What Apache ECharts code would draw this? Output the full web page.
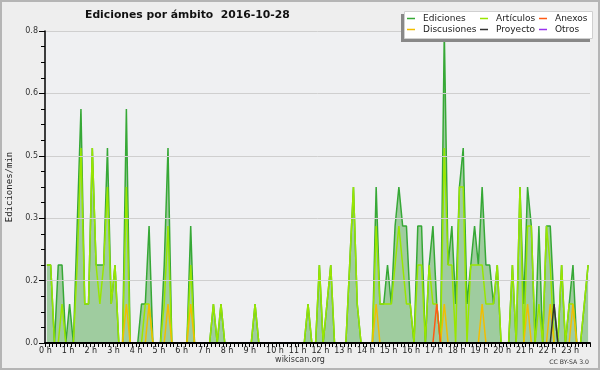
<!DOCTYPE html>
<html><head><meta charset="utf-8">
<script src="https://cdn.jsdelivr.net/npm/echarts@6/dist/echarts.min.js"></script>
<style>html,body{margin:0;padding:0;background:#eeeeee}#c{width:600px;height:370px}</style>
</head><body><div id="c"></div><script>
// 10-minute bins, 144 per day (edits per minute)
const ediciones = [
 .2,.2,0,.2,.2,0,.1,0,.3,.6,.1,.1,
 .5,.2,.2,.2,.5,.1,.2,0,0,.6,0,0,
 0,.1,.1,.3,0,0,0,.2,.5,0,0,0,
 0,0,.3,0,0,0,0,0,.1,0,.1,0,
 0,0,0,0,0,0,0,.1,0,0,0,0,
 0,0,0,0,0,0,0,0,0,.1,0,0,
 .2,0,.1,.2,0,0,0,0,.2,.4,.1,0,
 0,0,0,.4,.1,.1,.2,.1,.3,.4,.3,.3,
 .1,0,.3,.3,0,.2,.3,.1,0,.8,.2,.3,
 .1,.4,.5,.1,.2,.3,.2,.4,.2,.2,.1,.2,
 0,0,0,.2,0,.4,.1,.4,.3,0,.3,0,
 .3,.3,.1,0,.2,0,.1,.2,0,0,.1,.2
];
const articulos = [
 .2,.2,0,0,.1,0,0,0,.2,.5,.1,.1,
 .5,.2,.1,.2,.4,.1,.2,0,0,.4,0,0,
 0,0,.1,.1,0,0,0,.1,.3,0,0,0,
 0,0,.2,0,0,0,0,0,.1,0,.1,0,
 0,0,0,0,0,0,0,.1,0,0,0,0,
 0,0,0,0,0,0,0,0,0,.1,0,0,
 .2,0,.1,.2,0,0,0,0,.2,.4,.1,0,
 0,0,0,.3,.1,.1,.1,.1,.2,.3,.2,.1,
 .1,0,.2,.2,0,.2,.1,.1,0,.5,.2,.2,
 0,.4,.4,0,.2,.2,.2,.2,.1,.1,.1,.2,
 0,0,0,.2,0,.4,0,.3,.3,0,.1,0,
 .3,.2,0,0,.2,0,.1,.1,0,0,.1,.2
];
const discusiones = [
 0,0,0,0,0,0,0,0,0,0,0,0,
 0,0,0,0,0,0,0,0,0,.1,0,0,
 0,0,0,.1,0,0,0,0,.1,0,0,0,
 0,0,.1,0,0,0,0,0,0,0,0,0,
 0,0,0,0,0,0,0,0,0,0,0,0,
 0,0,0,0,0,0,0,0,0,0,0,0,
 0,0,0,0,0,0,0,0,0,0,0,0,
 0,0,0,.1,0,0,0,0,0,0,0,0,
 0,0,0,0,0,0,0,0,0,.1,0,0,
 0,0,0,0,0,0,0,.1,0,0,0,0,
 0,0,0,0,0,0,0,.1,0,0,0,0,
 0,.1,0,0,0,0,0,.1,0,0,0,0
];
const anexos = [
 0,0,0,0,0,0,0,0,0,0,0,0,
 0,0,0,0,0,0,0,0,0,0,0,0,
 0,0,0,0,0,0,0,0,0,0,0,0,
 0,0,0,0,0,0,0,0,0,0,0,0,
 0,0,0,0,0,0,0,0,0,0,0,0,
 0,0,0,0,0,0,0,0,0,0,0,0,
 0,0,0,0,0,0,0,0,0,0,0,0,
 0,0,0,0,0,0,0,0,0,0,0,0,
 0,0,0,0,0,0,0,.1,0,0,0,0,
 0,0,0,0,0,0,0,0,0,0,0,0,
 0,0,0,0,0,0,0,0,0,0,0,0,
 0,0,0,0,0,0,0,0,0,0,0,0
];
const proyecto = [
 0,0,0,0,0,0,0,0,0,0,0,0,
 0,0,0,0,0,0,0,0,0,0,0,0,
 0,0,0,0,0,0,0,0,0,0,0,0,
 0,0,0,0,0,0,0,0,0,0,0,0,
 0,0,0,0,0,0,0,0,0,0,0,0,
 0,0,0,0,0,0,0,0,0,0,0,0,
 0,0,0,0,0,0,0,0,0,0,0,0,
 0,0,0,0,0,0,0,0,0,0,0,0,
 0,0,0,0,0,0,0,0,0,0,0,0,
 0,0,0,0,0,0,0,0,0,0,0,0,
 0,0,0,0,0,0,0,0,0,0,0,0,
 0,0,.1,0,0,0,0,0,0,0,0,0
];
const otros = new Array(144).fill(0);
const seriesNames = ['Ediciones','Artículos','Anexos','Discusiones','Proyecto','Otros'];
const seriesColors = ['#36a836','#99e600','#ff5a14','#f2be00','#333333','#9933ee'];
const titleText = 'Ediciones por ámbito  2016-10-28';
const yName = 'Ediciones/min';

const binsPerHour = 6;
const pts = arr => arr.map((v,i)=>[(i+0.5)/binsPerHour, v]);
const dataByName = {
  'Ediciones': ediciones, 'Artículos': articulos, 'Anexos': anexos,
  'Discusiones': discusiones, 'Proyecto': proyecto, 'Otros': otros
};
const drawOrder = ['Ediciones','Artículos','Discusiones','Anexos','Proyecto','Otros'];

const series = drawOrder.map(name => {
  const c = seriesColors[seriesNames.indexOf(name)];
  const s = {
    name, type:'line', data: pts(dataByName[name]), symbol:'none', smooth:false,
    color: c, lineStyle:{color:c, width:1.5}, z: 2
  };
  if (name === 'Ediciones') s.areaStyle = {color:'#9fcc9f', opacity:1};
  return s;
});

const legendCommon = {
  orient:'vertical', top:13, padding:0, itemGap:0, itemWidth:8, itemHeight:1.5,
  icon:'rect', z:60, selectedMode:false,
  textStyle:{fontFamily:'DejaVu Sans', fontSize:9, color:'#222', lineHeight:11, padding:[0,0,0,3]}
};

const chart = echarts.init(document.getElementById('c'), null, {renderer:'canvas'});
chart.setOption({
  animation:false,
  backgroundColor:'#eeeeee',
  title:{text:titleText, left:80, top:5, textStyle:{fontFamily:'DejaVu Sans', fontSize:10.8, fontWeight:'bold', color:'#111'}},
  grid:{left:45, right:10, top:31, bottom:27, show:true, backgroundColor:'#eff0f2', borderWidth:0, outerBoundsMode:'none', containLabel:false},
  legend:[
    Object.assign({left:407, data:[seriesNames[0], seriesNames[3]]}, legendCommon),
    Object.assign({left:480, data:[seriesNames[1], seriesNames[4]]}, legendCommon),
    Object.assign({left:539, data:[seriesNames[2], seriesNames[5]]}, legendCommon)
  ],
  xAxis:{
    type:'value', min:0, max:24, interval:1, z:5,
    axisLine:{lineStyle:{color:'#000', width:2}},
    axisTick:{show:true, length:4, lineStyle:{color:'#000'}},
    minorTick:{show:true, splitNumber:6, length:4, lineStyle:{color:'#000'}},
    splitLine:{show:false},
    axisLabel:{formatter:v => v < 24 ? v + ' h' : '', fontFamily:'DejaVu Sans', fontSize:8, color:'#222', margin:4, align:'left', padding:[0,0,0,-6]}
  },
  yAxis:{
    type:'value', min:0, max:0.8, interval:0.16, z:5,
    name:yName, nameLocation:'middle', nameGap:31,
    nameTextStyle:{fontFamily:'DejaVu Sans Mono', fontSize:9, color:'#222'},
    axisLine:{show:true, lineStyle:{color:'#000', width:1.5}},
    axisTick:{show:true, length:6, lineStyle:{color:'#000'}},
    minorTick:{show:true, splitNumber:4, length:4, lineStyle:{color:'#000'}},
    splitLine:{show:true, lineStyle:{color:'#cfcfcf'}},
    axisLabel:{formatter:v => v.toFixed(1), fontFamily:'DejaVu Sans', fontSize:8, color:'#333', margin:7}
  },
  graphic:[
    {type:'rect', z:-1, silent:true, shape:{x:1, y:1, width:598, height:368}, style:{fill:'none', stroke:'#b5b5b5', lineWidth:2}},
    {type:'rect', z:50, silent:true, shape:{x:401, y:14, width:189, height:28}, style:{fill:'#888888'}},
    {type:'rect', z:51, silent:true, shape:{x:404.5, y:11.5, width:188, height:27}, style:{fill:'#ffffff', stroke:'#d0d0d0', lineWidth:1}},
    {type:'text', z:51, silent:true, left:'center', top:356, style:{text:'wikiscan.org', fontFamily:'DejaVu Sans', fontSize:8, fill:'#333'}},
    {type:'text', z:51, silent:true, right:11, top:359, style:{text:'CC BY-SA 3.0', fontFamily:'DejaVu Sans', fontSize:6.2, fill:'#333'}}
  ],
  series
});
</script></body></html>
